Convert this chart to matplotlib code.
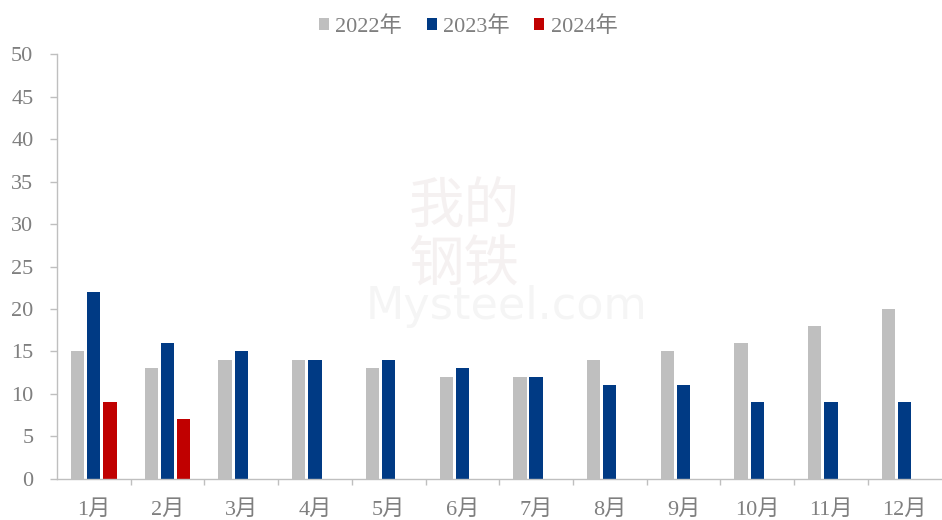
import matplotlib
matplotlib.use("Agg")
import matplotlib.pyplot as plt
import numpy as np

months = ["1月", "2月", "3月", "4月", "5月", "6月", "7月", "8月", "9月", "10月", "11月", "12月"]
s2022 = [15, 13, 14, 14, 13, 12, 12, 14, 15, 16, 18, 20]
s2023 = [22, 16, 15, 14, 14, 13, 12, 11, 11, 9, 9, 9]
s2024 = [9, 7]
labels = ["2022年", "2023年", "2024年"]
colors = ["#bfbfbf", "#003a84", "#c00000"]

plt.rcParams['font.family'] = ['Liberation Serif', 'Noto Sans CJK SC', 'DejaVu Sans']
txt = "#7f7f7f"
axc = "#bfbfbf"

fig = plt.figure(figsize=(9.42, 5.2), dpi=100)
ax = fig.add_axes([0.0605, 0.079, 0.939, 0.817])

# watermark
fig.text(0.4925, 0.545, "我的\n钢铁", fontsize=40, color="#f5f1f1", ha="center", va="center",
         family=['Noto Sans CJK SC'], linespacing=1.0, zorder=0)
fig.text(0.538, 0.41, "Mysteel.com", fontsize=32, color="#f5f5f5", ha="center", va="center",
         family=['DejaVu Sans'], zorder=0)

x = np.arange(len(months))
w = 0.18
step = 0.22
ax.bar(x - step, s2022, width=w, color=colors[0], label=labels[0], zorder=2)
ax.bar(x, s2023, width=w, color=colors[1], label=labels[1], zorder=2)
ax.bar(x[:len(s2024)] + step, s2024, width=w, color=colors[2], label=labels[2], zorder=2)

ax.set_xlim(-0.5, len(months) - 0.5)
ax.set_ylim(0, 50)
ax.set_yticks(np.arange(0, 51, 5))
ax.set_xticks(x)
ax.set_xticklabels(months)
ax.set_xticks(np.arange(0.5, len(months) - 0.5, 1), minor=True)
ax.tick_params(axis='x', which='major', length=0, pad=15, labelsize=16, labelcolor=txt)
ax.tick_params(axis='x', which='minor', length=4.5, color=axc, width=1, direction='out')
ax.tick_params(axis='y', length=5, color=axc, width=1, labelsize=16, labelcolor=txt, pad=12)

for s in ["top", "right"]:
    ax.spines[s].set_visible(False)
for s in ["left", "bottom"]:
    ax.spines[s].set_color(axc)
    ax.spines[s].set_linewidth(1)
ax.patch.set_alpha(0)

leg = fig.legend(loc="center", bbox_to_anchor=(0.497, 0.949), ncol=3, frameon=False,
                 fontsize=16, handlelength=0.45, handleheight=0.45, handletextpad=0.3,
                 columnspacing=1.1, labelcolor=txt)

fig.savefig("out.png", dpi=100)
